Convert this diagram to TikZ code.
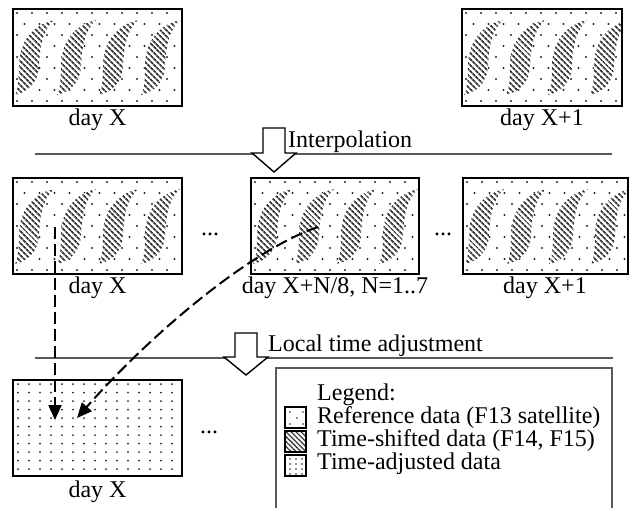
\documentclass[tikz,border=0pt]{standalone}
\usepackage{fontspec}
\setmainfont{Liberation Serif}
\usetikzlibrary{patterns.meta,arrows.meta,fit}

\definecolor{dotc}{gray}{0.15}
\definecolor{hatchc}{gray}{0.22}
\definecolor{rulec}{gray}{0.35}

% regular field of dots inside a rectangle (x0,y0,x1,y1,dx,dy), staggered rows
\newcommand\dotfield[6]{%
  \begin{scope}
    \clip (#1,#2) rectangle (#3,#4);
    \foreach \r in {0,...,14} {
      \foreach \c in {0,...,16} {
        \fill[dotc] ({#1+4+(\c+0.5*mod(\r,2))*#5},{#2+4+\r*#6}) circle (1.05);
      }
    }
  \end{scope}}

% dense field for the adjusted product: aligned columns
\newcommand\densefield[4]{%
  \begin{scope}
    \clip (#1,#2) rectangle (#3,#4);
    \foreach \r in {0,...,12} {
      \foreach \c in {0,...,16} {
        \fill[dotc] ({#1+5+\c*11},{#2+4+\r*8.5}) circle (1);
      }
    }
  \end{scope}}

% one hatched crescent, relative to left x and top y of its panel
\newcommand\swath[2]{%
  \path[preaction={fill=white},
        pattern={Lines[angle=-45,distance=4pt,line width=1.9pt]}, pattern color=hatchc]
   (#1+41,#2+11) .. controls (#1+16,#2+17) and (#1+6,#2+37) .. (#1+6,#2+57)
   .. controls (#1+6,#2+71) and (#1+5,#2+80) .. (#1+2,#2+86)
   .. controls (#1+14,#2+83) and (#1+25,#2+75) .. (#1+26,#2+57)
   .. controls (#1+27,#2+37) and (#1+30,#2+21) .. (#1+41,#2+11) -- cycle;}

% panel with reference dots and four time-shifted crescents
\newcommand\shiftpanel[5]{%
  \dotfield{#2}{#3}{#4}{#5}{15}{11}
  \begin{scope}
    \clip (#2,#3) rectangle (#4,#5);
    \foreach \k in {0,...,3} { \swath{#2+\k*42}{#3} }
  \end{scope}
  \node[frame, fit={(#2,#3) (#4,#5)}] (#1) {};}

% hollow block arrow pointing down, centre x, shaft top, head base, tip
\newcommand\blockarrow[4]{%
  \draw[blockarr] (#1-11,#2) -- (#1+11,#2) -- (#1+11,#3) -- (#1+22,#3)
    -- (#1,#4) -- (#1-22,#3) -- (#1-11,#3) -- cycle;}

\begin{document}
\begin{tikzpicture}[x=1pt,y=-1pt,
  frame/.style={draw=black, line width=2.4pt, inner sep=0pt},
  txt/.style={font=\fontsize{24}{27}\selectfont, inner sep=0pt},
  rulerline/.style={draw=rulec, line width=1.3pt},
  blockarr/.style={draw=black, fill=white, line width=1.4pt, line join=miter},
  dashline/.style={draw=black, line width=2pt, dash pattern=on 12pt off 5pt,
                   -{Triangle[length=15pt,width=13pt]}},
  legframe/.style={draw=rulec, line width=1.4pt},
  keybox/.style={draw=black, line width=1.8pt, inner sep=0pt}]

\useasboundingbox (0,0) rectangle (631,507);

% ---- day X and day X+1
\shiftpanel{a1}{13}{9}{182}{106}
\shiftpanel{a2}{462}{9}{622}{106}
\node[txt, anchor=base] (la1) at (97.5,125) {day X};
\node[txt, anchor=base] (la2) at (542,125) {day X+1};

% ---- interpolation step
\draw[rulerline] (35,154) -- (612,154);
\blockarrow{274}{128}{153}{172}
\node[txt, anchor=base west] (interp) at (288,147) {Interpolation};

% ---- interpolated sequence
\shiftpanel{b1}{13}{178}{182}{274}
\shiftpanel{b2}{251}{178}{419}{274}
\shiftpanel{b3}{463}{178}{628}{274}
\node[txt, anchor=base] (lb1) at (97.5,293) {day X};
\node[txt, anchor=base] (lb2) at (335,293) {day X+N/8, N=1..7};
\node[txt, anchor=base] (lb3) at (545,293) {day X+1};
\node[txt, anchor=base] (dots1) at (210,235) {...};
\node[txt, anchor=base] (dots2) at (443,235) {...};

% ---- local time adjustment step
\draw[rulerline] (35,358) -- (613,358);
\blockarrow{246}{333}{357}{375}
\node[txt, anchor=base west] (adjust) at (268,351) {Local time adjustment};

% ---- adjusted product
\densefield{13}{380}{182}{476}
\node[frame, fit={(13,380) (182,476)}] (c1) {};
\node[txt, anchor=base] (lc1) at (97.5,497) {day X};
\node[txt, anchor=base] (dots3) at (209,433) {...};

% ---- sampling connectors
\coordinate (v0) at (55,227);
\coordinate (v1) at (55,420);
\coordinate (w0) at (318,227);
\coordinate (w1) at (77,418);
\draw[dashline] (v0) -- (v1);
\draw[dashline] (w0) .. controls (250,250) and (150,335) .. (w1);

% ---- legend
\draw[legframe] (276,515) -- (276,368) -- (612,368) -- (612,515);
\node[txt, anchor=base west] (legt) at (317,400) {Legend:};
\node[txt, anchor=base west] (leg1) at (317,423) {Reference data (F13 satellite)};
\node[txt, anchor=base west] (leg2) at (317,446) {Time-shifted data (F14, F15)};
\node[txt, anchor=base west] (leg3) at (317,469) {Time-adjusted data};

% key 1: sparse dots
\foreach \p in {(290,412),(297,418),(303,412),(290,424),(303,424)}
  \fill[dotc] \p circle (0.95);
\node[keybox, fit={(285,407) (306,428)}] (k1) {};
% key 2: hatching
\path[pattern={Lines[angle=-45,distance=3.5pt,line width=1.3pt]}, pattern color=hatchc]
  (285,431) rectangle (306,452);
\node[keybox, fit={(285,431) (306,452)}] (k2) {};
% key 3: dense dots
\foreach \i in {0,1,2} \foreach \j in {0,1,2,3}
  \fill[dotc] ({290+\i*6},{459+\j*5}) circle (0.9);
\node[keybox, fit={(285,455) (306,476)}] (k3) {};

\end{tikzpicture}
\end{document}
